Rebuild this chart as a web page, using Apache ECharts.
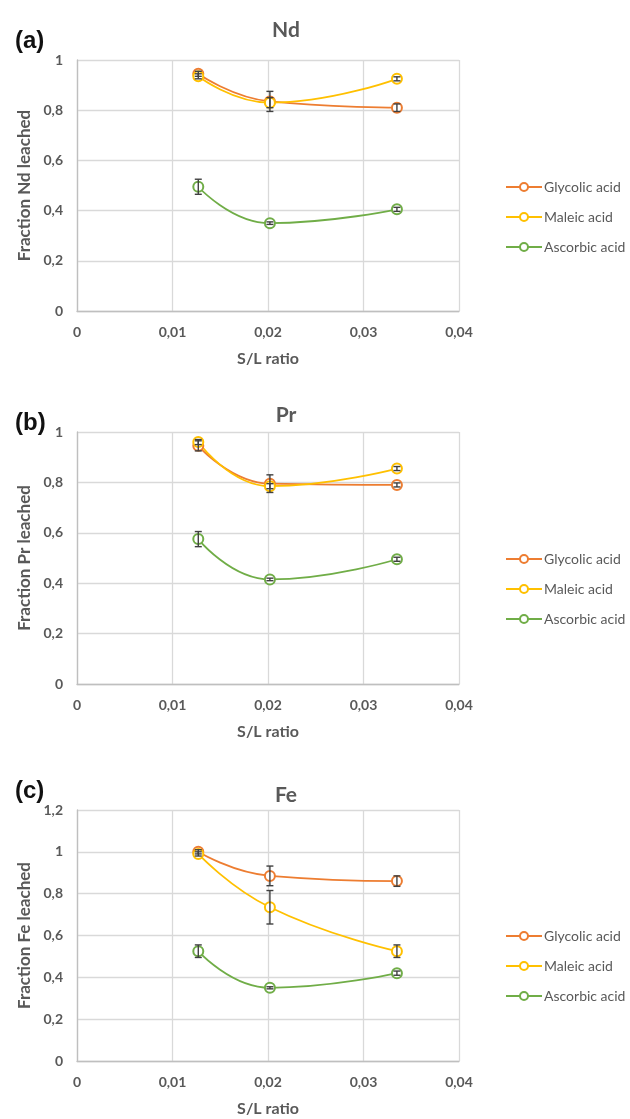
<!DOCTYPE html>
<html>
<head>
<meta charset="utf-8">
<script src="https://cdn.jsdelivr.net/npm/echarts@6/dist/echarts.min.js"></script>
<style>
html,body{margin:0;padding:0;background:#fff;}
#chart{width:630px;height:1119px;}
</style>
</head>
<body>
<div id="chart"></div>
<script>
// ---- data ----
const slRatio = [0.0127, 0.0202, 0.0335];
const seriesNames = ['Glycolic acid', 'Maleic acid', 'Ascorbic acid'];
const seriesColors = ['#ED7D31', '#FFC000', '#70AD47'];
const panelLabels = ['(a)', '(b)', '(c)'];
const elements = ['Nd', 'Pr', 'Fe'];
const yMaxes = [1, 1, 1.2];

const ndGlycolic = [0.945, 0.835, 0.81];
const ndMaleic = [0.935, 0.83, 0.925];
const ndAscorbic = [0.495, 0.35, 0.405];
const ndGlycolicErr = [0.01, 0.04, 0.015];
const ndMaleicErr = [0.01, 0.02, 0.008];
const ndAscorbicErr = [0.03, 0.005, 0.008];

const prGlycolic = [0.945, 0.795, 0.79];
const prMaleic = [0.96, 0.785, 0.855];
const prAscorbic = [0.575, 0.415, 0.495];
const prGlycolicErr = [0.02, 0.035, 0.008];
const prMaleicErr = [0.01, 0.01, 0.008];
const prAscorbicErr = [0.03, 0.005, 0.008];

const feGlycolic = [1.0, 0.885, 0.86];
const feMaleic = [0.99, 0.735, 0.525];
const feAscorbic = [0.525, 0.35, 0.42];
const feGlycolicErr = [0.01, 0.047, 0.025];
const feMaleicErr = [0.01, 0.08, 0.03];
const feAscorbicErr = [0.03, 0.005, 0.01];

const xTicks = ['0', '0,01', '0,02', '0,03', '0,04'];

const panelValues = [
  [ndGlycolic, ndMaleic, ndAscorbic],
  [prGlycolic, prMaleic, prAscorbic],
  [feGlycolic, feMaleic, feAscorbic]
];
const panelErrors = [
  [ndGlycolicErr, ndMaleicErr, ndAscorbicErr],
  [prGlycolicErr, prMaleicErr, prAscorbicErr],
  [feGlycolicErr, feMaleicErr, feAscorbicErr]
];

// ---- layout ----
const FONT = 'Lato, "Open Sans", sans-serif';
const TXT = '#595959';
const gridTops = [60, 432, 810];
const gridHeights = [251, 252, 251];
const titleTops = [15, 400, 780];
const labelTops = [24, 406, 774];
const legendTops = [175, 547, 924];

const chart = echarts.init(document.getElementById('chart'));

const grids = [], xAxes = [], yAxes = [], series = [], titles = [], legends = [];

for (let p = 0; p < 3; p++) {
  grids.push({left: 77, width: 382, top: gridTops[p], height: gridHeights[p]});
  xAxes.push({
    type: 'value', gridIndex: p, min: 0, max: 0.04, interval: 0.01,
    name: 'S/L ratio', nameLocation: 'middle', nameGap: 40,
    nameTextStyle: {fontFamily: FONT, fontSize: 16, fontWeight: 'bold', color: TXT},
    axisLine: {show: true, lineStyle: {color: '#BFBFBF', width: 1.3}},
    axisTick: {show: false},
    axisLabel: {fontFamily: FONT, fontSize: 14, fontWeight: 'bold', color: TXT, margin: 14,
      formatter: v => xTicks[Math.round(v / 0.01)]},
    splitLine: {show: true, lineStyle: {color: '#D9D9D9', width: 1.3}}
  });
  yAxes.push({
    type: 'value', gridIndex: p, min: 0, max: yMaxes[p], interval: 0.2,
    name: 'Fraction ' + elements[p] + ' leached', nameLocation: 'middle', nameGap: 42,
    nameTextStyle: {fontFamily: FONT, fontSize: 17, fontWeight: 'bold', color: TXT},
    axisLine: {show: true, lineStyle: {color: '#BFBFBF', width: 1.3}},
    axisTick: {show: false},
    axisLabel: {fontFamily: FONT, fontSize: 14, fontWeight: 'bold', color: TXT, margin: 14,
      formatter: v => String(Math.round(v * 10) / 10).replace('.', ',')},
    splitLine: {show: true, lineStyle: {color: '#D9D9D9', width: 1.3}}
  });
  titles.push({
    text: elements[p], left: 281, top: titleTops[p], textAlign: 'center',
    textStyle: {fontFamily: FONT, fontSize: 21, fontWeight: 'bold', color: TXT}
  });
  titles.push({
    text: panelLabels[p], left: 10, top: labelTops[p],
    textStyle: {fontFamily: '"Liberation Sans", Arial, sans-serif', fontSize: 24, fontWeight: 'bold', color: '#111'}
  });
  legends.push({
    data: seriesNames, orient: 'vertical', left: 500, top: legendTops[p],
    itemWidth: 36, itemHeight: 10, itemGap: 16,
    textStyle: {fontFamily: FONT, fontSize: 14, color: TXT, padding: [0, 0, 0, -3]}
  });
  for (let s = 0; s < 3; s++) {
    const vals = panelValues[p][s];
    const errs = panelErrors[p][s];
    series.push({
      name: seriesNames[s], type: 'line', xAxisIndex: p, yAxisIndex: p,
      smooth: 0.5, symbol: 'emptyCircle', symbolSize: 10,
      lineStyle: {color: seriesColors[s], width: 1.8},
      itemStyle: {color: seriesColors[s], borderWidth: 1.8},
      data: slRatio.map((x, i) => [x, vals[i]]), z: 3
    });
    series.push({
      type: 'custom', xAxisIndex: p, yAxisIndex: p, z: 4,
      data: slRatio.map((x, i) => [x, vals[i], errs[i]]),
      renderItem: function (params, api) {
        const x = api.value(0), y = api.value(1), e = api.value(2);
        const top = api.coord([x, y + e]);
        const bot = api.coord([x, y - e]);
        const hw = 3.5;
        const st = {stroke: '#404040', lineWidth: 1.4};
        return {type: 'group', children: [
          {type: 'line', shape: {x1: top[0], y1: top[1], x2: bot[0], y2: bot[1]}, style: st},
          {type: 'line', shape: {x1: top[0] - hw, y1: top[1], x2: top[0] + hw, y2: top[1]}, style: st},
          {type: 'line', shape: {x1: bot[0] - hw, y1: bot[1], x2: bot[0] + hw, y2: bot[1]}, style: st}
        ]};
      }
    });
  }
}

chart.setOption({
  animation: false,
  backgroundColor: '#fff',
  color: seriesColors,
  title: titles,
  legend: legends,
  grid: grids,
  xAxis: xAxes,
  yAxis: yAxes,
  series: series
});
</script>
</body>
</html>
